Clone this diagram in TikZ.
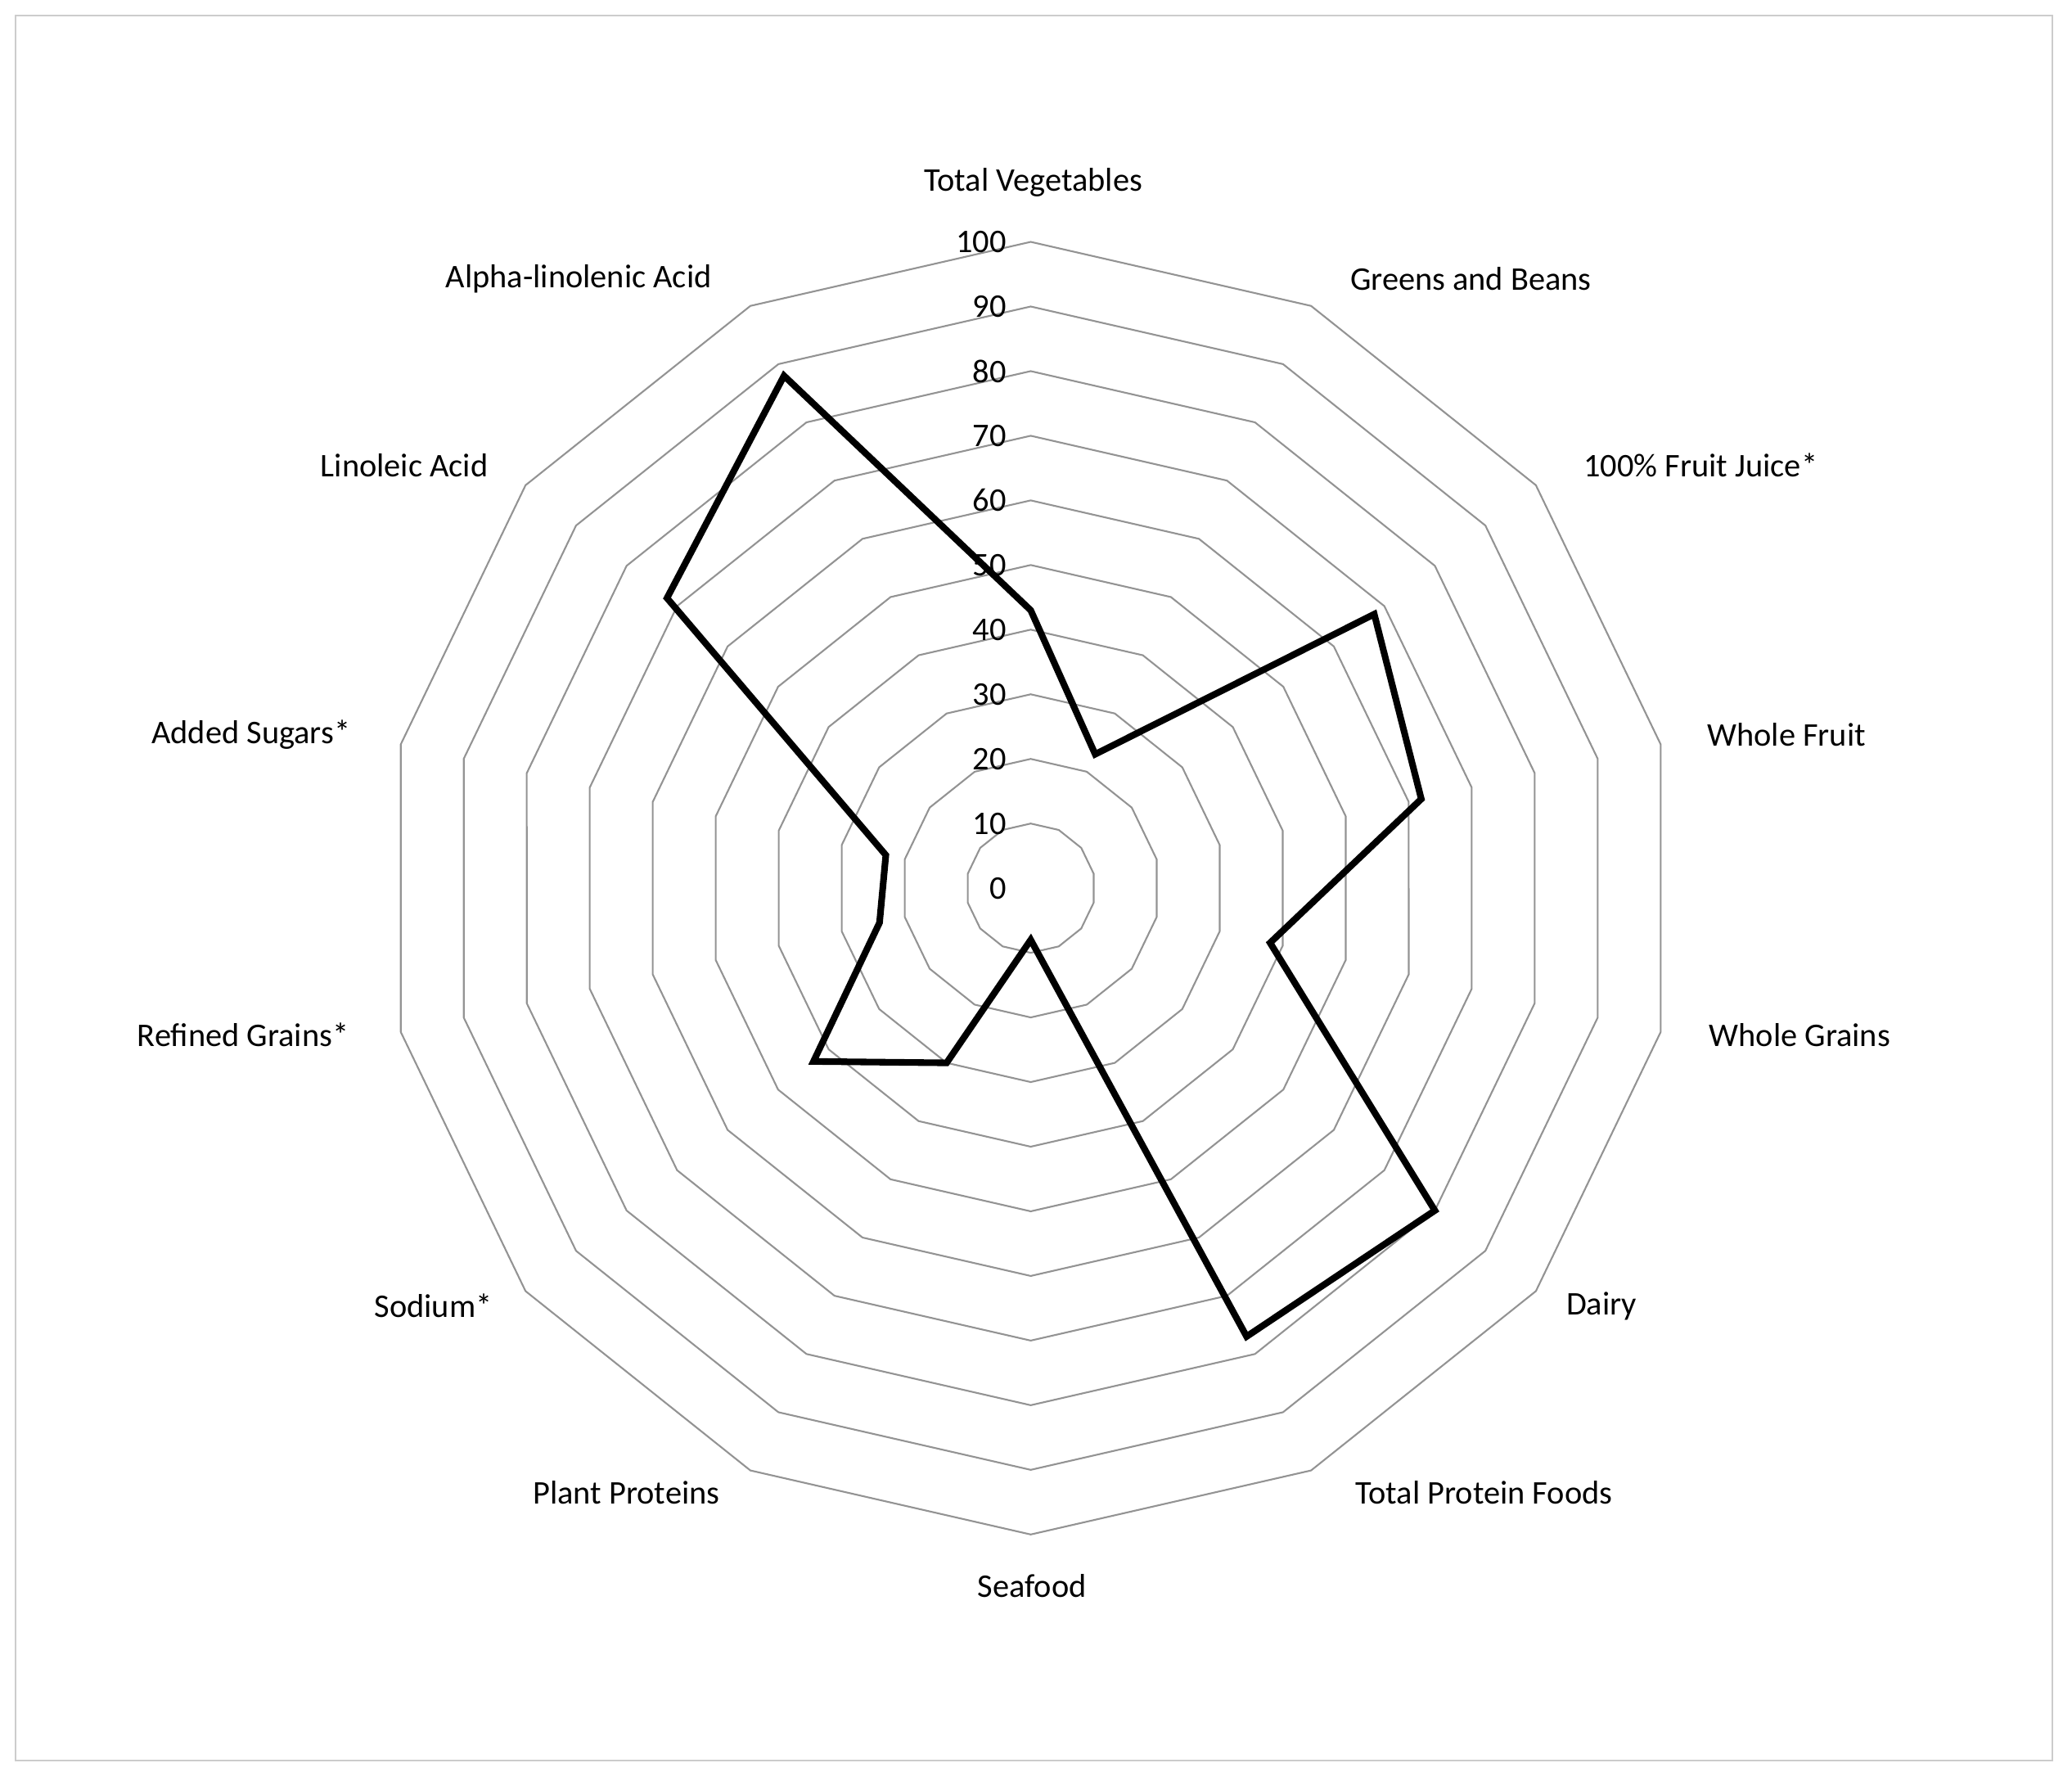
\documentclass[tikz,border=0pt]{standalone}
\usepackage{fontspec}
\setmainfont{Carlito}
\begin{document}
\begin{tikzpicture}[x=1pt,y=-1pt,
  ring/.style={draw=gray!85,line width=1.3pt},
  lbl/.style={font=\fontsize{25}{28}\selectfont},
  num/.style={font=\fontsize{25}{28}\selectfont,anchor=east}]
\useasboundingbox (0,0) rectangle (1568,1347);
\draw[gray!40,line width=1.2pt] (12,12) rectangle (1553,1332);
\foreach \k in {1,...,10}{
  \foreach \i in {0,...,13}{
    \coordinate (r\k-\i) at ({780+48.9*\k*cos(90-\i*360/14)},{672-48.9*\k*sin(90-\i*360/14)});
  }
  \draw[ring] (r\k-0) -- (r\k-1) -- (r\k-2) -- (r\k-3) -- (r\k-4) -- (r\k-5) -- (r\k-6) -- (r\k-7) -- (r\k-8) -- (r\k-9) -- (r\k-10) -- (r\k-11) -- (r\k-12) -- (r\k-13) -- cycle;
}
\foreach \v [count=\k from 0] in {0,10,20,30,40,50,60,70,80,90,100}
  \node[num] (n\k) at (765,{672-48.9*\k}) {\v};
\foreach \v [count=\i from 0] in {43,23,68,62,38,80,77,8,30,43,24,23,72,88}
  \coordinate (p\i) at ({780+4.89*\v*cos(90-\i*360/14)},{672-4.89*\v*sin(90-\i*360/14)});
\draw[line width=5pt,line join=miter] (p0) -- (p1) -- (p2) -- (p3) -- (p4) -- (p5) -- (p6) -- (p7) -- (p8) -- (p9) -- (p10) -- (p11) -- (p12) -- (p13) -- cycle;
\node[lbl] (a1) at (782,138) {Total Vegetables};
\node[lbl] (a2) at (1113,211) {Greens and Beans};
\node[lbl] (a3) at (1287,352) {100\% Fruit Juice*};
\node[lbl] (a4) at (1352,556) {Whole Fruit};
\node[lbl] (a5) at (1362,783) {Whole Grains};
\node[lbl] (a6) at (1212,988) {Dairy};
\node[lbl] (a7) at (1123,1129) {Total Protein Foods};
\node[lbl] (a8) at (781,1200) {Seafood};
\node[lbl] (a9) at (474,1129) {Plant Proteins};
\node[lbl] (a10) at (328,988) {Sodium*};
\node[lbl] (a11) at (184,783) {Refined Grains*};
\node[lbl] (a12) at (190,556) {Added Sugars*};
\node[lbl] (a13) at (306,352) {Linoleic Acid};
\node[lbl] (a14) at (438,211) {Alpha-linolenic Acid};
\end{tikzpicture}
\end{document}
